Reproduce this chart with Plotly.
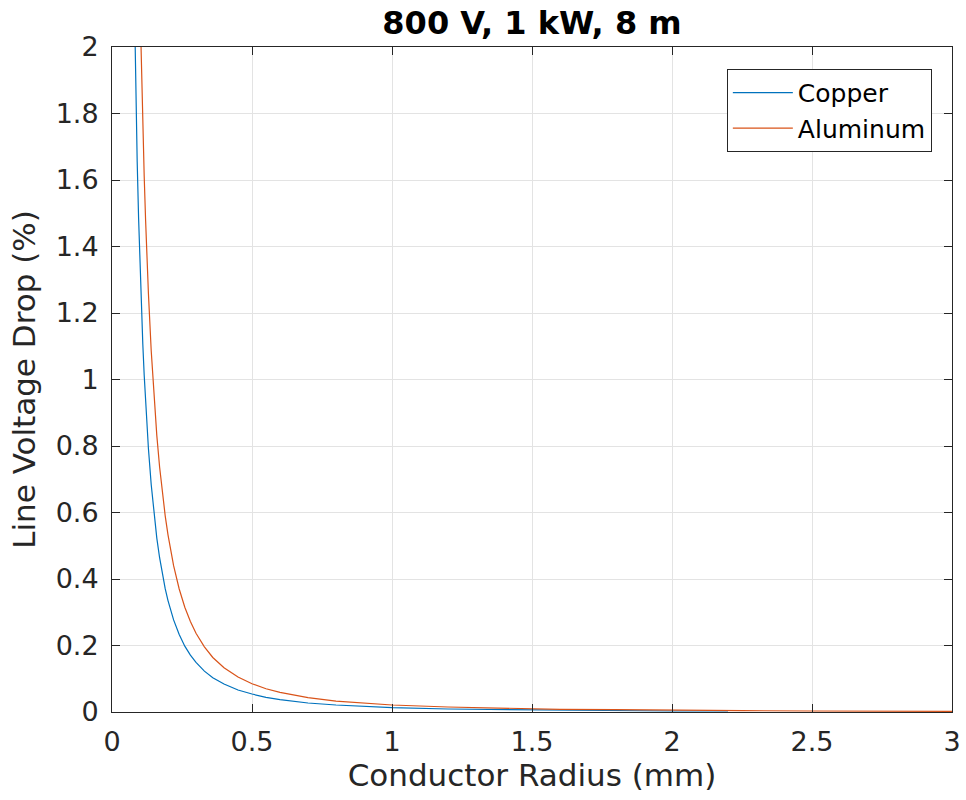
import plotly.graph_objects as go

# Conductor radius (mm) and resulting line voltage drop (%)
radius_cu = [0.075, 0.08, 0.085, 0.09, 0.095, 0.10, 0.105, 0.11, 0.115, 0.12,
             0.13, 0.14, 0.15, 0.16, 0.17, 0.18, 0.19, 0.20, 0.22, 0.24,
             0.26, 0.28, 0.30, 0.33, 0.36, 0.40, 0.45, 0.50, 0.55, 0.60,
             0.70, 0.80, 0.90, 1.00, 1.20, 1.40, 1.60, 1.80, 2.00, 2.20]
drop_cu = [2.382, 2.094, 1.855, 1.654, 1.485, 1.340, 1.215, 1.107, 1.013, 0.931,
           0.793, 0.684, 0.596, 0.523, 0.464, 0.414, 0.371, 0.335, 0.277, 0.233,
           0.198, 0.171, 0.149, 0.123, 0.103, 0.084, 0.066, 0.054, 0.044, 0.037,
           0.027, 0.021, 0.017, 0.013, 0.009, 0.007, 0.005, 0.004, 0.003, 0.003]

radius_al = [0.10, 0.105, 0.11, 0.115, 0.12, 0.125, 0.13, 0.14, 0.15, 0.16,
             0.17, 0.18, 0.19, 0.20, 0.22, 0.24, 0.26, 0.28, 0.30, 0.33,
             0.36, 0.40, 0.45, 0.50, 0.55, 0.60, 0.70, 0.80, 0.90, 1.00,
             1.20, 1.40, 1.60, 1.80, 2.00, 2.25, 2.50, 2.75, 3.00]
drop_al = [2.130, 1.932, 1.760, 1.611, 1.479, 1.363, 1.260, 1.087, 0.947, 0.832,
           0.737, 0.657, 0.590, 0.533, 0.440, 0.370, 0.315, 0.272, 0.237, 0.196,
           0.164, 0.133, 0.105, 0.085, 0.070, 0.059, 0.043, 0.033, 0.026, 0.021,
           0.015, 0.011, 0.008, 0.007, 0.005, 0.004, 0.003, 0.003, 0.002]

x_ticks = [0, 0.5, 1, 1.5, 2, 2.5, 3]
x_tick_labels = ["0", "0.5", "1", "1.5", "2", "2.5", "3"]
y_ticks = [0, 0.2, 0.4, 0.6, 0.8, 1, 1.2, 1.4, 1.6, 1.8, 2]
y_tick_labels = ["0", "0.2", "0.4", "0.6", "0.8", "1", "1.2", "1.4", "1.6", "1.8", "2"]

FONT = "DejaVu Sans"
AXIS_COLOR = "#262626"
GRID_COLOR = "#e3e3e3"

fig = go.Figure()
fig.add_trace(go.Scatter(x=radius_cu, y=drop_cu, mode="lines", name="Copper",
                         line=dict(color="#0072BD", width=1.2)))
fig.add_trace(go.Scatter(x=radius_al, y=drop_al, mode="lines", name="Aluminum",
                         line=dict(color="#D95319", width=1.2)))

axis_common = dict(
    showline=True, linecolor=AXIS_COLOR, linewidth=1, mirror="ticks",
    ticks="inside", ticklen=8, tickwidth=1, tickcolor=AXIS_COLOR,
    showgrid=True, gridcolor=GRID_COLOR, gridwidth=1, zeroline=False,
    automargin=False,
    tickfont=dict(family=FONT, size=27, color=AXIS_COLOR),
)

fig.update_xaxes(range=[0, 3], tickvals=x_ticks, ticktext=x_tick_labels,
                 ticklabelstandoff=6,
                 title=dict(text="Conductor Radius (mm)", standoff=4,
                            font=dict(family=FONT, size=31, color=AXIS_COLOR)),
                 **axis_common)
fig.update_yaxes(range=[0, 2], tickvals=y_ticks, ticktext=y_tick_labels,
                 ticklabelstandoff=7,
                 title=dict(text="Line Voltage Drop (%)", standoff=10,
                            font=dict(family=FONT, size=31, color=AXIS_COLOR)),
                 **axis_common)

fig.update_layout(
    width=966, height=800,
    margin=dict(l=112, r=14, t=47, b=88, autoexpand=False),
    paper_bgcolor="white", plot_bgcolor="white",
    title=dict(text="<b>800 V, 1 kW, 8 m</b>", xref="paper", x=0.5,
               xanchor="center", yref="container", y=0.972, yanchor="middle",
               font=dict(family=FONT, size=32, color="black")),
    legend=dict(x=0.976, y=0.967, xanchor="right", yanchor="top",
                bgcolor="white", bordercolor=AXIS_COLOR, borderwidth=1,
                font=dict(family=FONT, size=25, color="black"),
                itemwidth=60, tracegroupgap=0),
    showlegend=True,
)

fig.write_html("out.html")
